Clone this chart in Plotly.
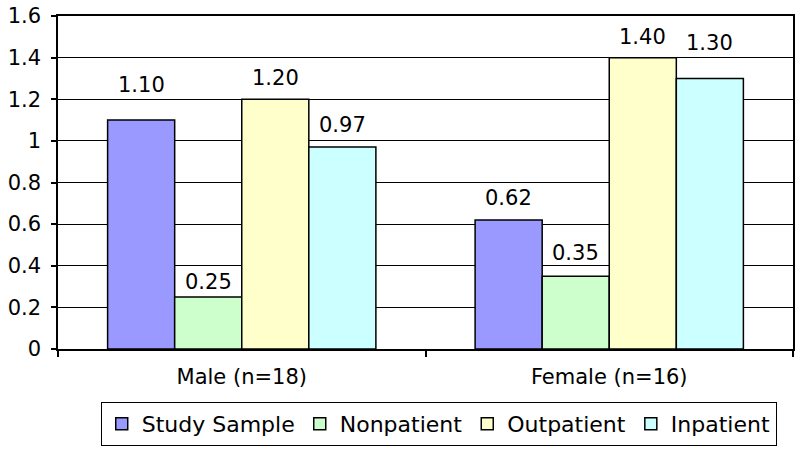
import plotly.graph_objects as go

categories = ["Male (n=18)", "Female (n=16)"]
series_names = ["Study Sample", "Nonpatient", "Outpatient", "Inpatient"]
study_sample = [1.10, 0.62]
nonpatient = [0.25, 0.35]
outpatient = [1.20, 1.40]
inpatient = [0.97, 1.30]
series_values = [study_sample, nonpatient, outpatient, inpatient]
colors = ["#9999FF", "#CCFFCC", "#FFFFCC", "#CCFFFF"]
# per-label vertical offsets (px) of the value labels above bars
label_shift = [[21, 1, 7, 8], [8, 9, 7, 21]]

FONT = "DejaVu Sans, Arial, sans-serif"
FS = 21
bargap = 0.27

fig = go.Figure()
for name, vals, col in zip(series_names, series_values, colors):
    fig.add_trace(go.Bar(
        x=categories, y=vals, name=name,
        marker=dict(color=col, line=dict(color="black", width=1.5)),
    ))

n = len(series_names)
bw = (1 - bargap) / n
annotations = []
for ci in range(len(categories)):
    for si in range(n):
        xpos = ci - (1 - bargap) / 2 + (si + 0.5) * bw
        v = series_values[si][ci]
        annotations.append(dict(
            x=xpos, y=v, xref="x", yref="y", text=f"{v:.2f}",
            showarrow=False, yanchor="bottom", yshift=label_shift[ci][si],
            font=dict(size=FS, color="black", family=FONT),
        ))

fig.update_layout(
    width=800, height=449,
    margin=dict(l=58, r=7, t=16, b=100, autoexpand=False),
    paper_bgcolor="white", plot_bgcolor="white",
    barmode="group", bargap=bargap, bargroupgap=0,
    font=dict(family=FONT, size=FS, color="black"),
    annotations=annotations,
    legend=dict(
        orientation="h", x=0.518, xanchor="center", y=-0.159, yanchor="top",
        bordercolor="black", borderwidth=1, bgcolor="white",
        font=dict(size=22, family=FONT), traceorder="normal",
        itemwidth=30, tracegroupgap=0,
    ),
    showlegend=True,
)
fig.update_yaxes(
    range=[0, 1.6], dtick=0.2, tick0=0, automargin=False,
    showgrid=True, gridcolor="black", gridwidth=1,
    showline=True, linecolor="black", linewidth=1.5, mirror=True,
    ticks="outside", ticklen=5, tickcolor="black", tickwidth=1.5,
    ticklabelstandoff=6, ticklabeloverflow="allow",
    zeroline=False, tickfont=dict(size=FS),
)
fig.update_xaxes(
    automargin=False,
    showline=True, linecolor="black", linewidth=1.5, mirror=True,
    ticks="outside", tickson="boundaries", ticklen=6, tickcolor="black", tickwidth=1.5,
    ticklabelstandoff=8, ticklabeloverflow="allow",
    showgrid=False, tickfont=dict(size=FS),
)

# remove the page's default body margin so the 800x449 figure fills the window
fig.write_html(
    "out.html",
    config={"displayModeBar": False},
    post_script="document.body.style.margin='0';document.body.style.overflow='hidden';",
)
